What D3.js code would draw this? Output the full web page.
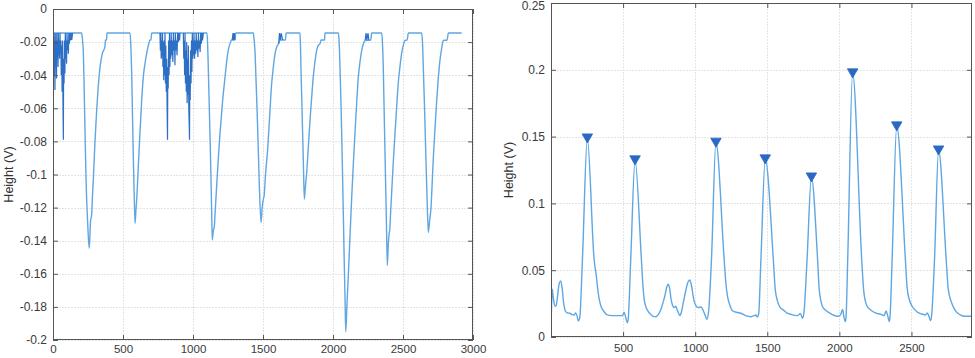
<!DOCTYPE html>
<html><head><meta charset="utf-8">
<script src="https://cdn.jsdelivr.net/npm/d3@7"></script>
<style>
html,body{margin:0;padding:0;background:#fff;}
svg{display:block;}
</style></head>
<body>
<svg id="chart" width="975" height="358"></svg>
<script>
// ---------- DATA ----------
// Left panel: raw (inverted) signal, light line
const leftSignal = [
[3,-0.0145],[145,-0.0145],[205,-0.0145],[211,-0.019],[217,-0.027],[223,-0.05],[229,-0.075],[236,-0.103],[248,-0.13],[259,-0.1446],[268,-0.128],[276,-0.1245],[282,-0.113],[288,-0.103],[300,-0.08],[312,-0.061],[324,-0.046],[336,-0.035],[352,-0.027],[371,-0.0228],[375,-0.0187],[383,-0.0187],[385,-0.0145],
[550,-0.0145],[556,-0.022],[562,-0.0385],[568,-0.065],[574,-0.0906],[580,-0.112],[586,-0.1295],[592,-0.122],[598,-0.115],[610,-0.094],[621,-0.075],[633,-0.056],[645,-0.041],[657,-0.033],[669,-0.0268],[681,-0.022],[693,-0.0187],[700,-0.0187],[705,-0.0145],
[1100,-0.0145],[1104,-0.02],[1109,-0.035],[1115,-0.055],[1121,-0.075],[1128,-0.1],[1134,-0.1255],[1138,-0.1396],[1145,-0.134],[1152,-0.1315],[1160,-0.12],[1169,-0.107],[1181,-0.09],[1193,-0.075],[1211,-0.056],[1229,-0.041],[1240,-0.032],[1252,-0.0248],[1264,-0.021],[1276,-0.0187],[1300,-0.0187],[1305,-0.0145],
[1431,-0.0145],[1437,-0.019],[1443,-0.026],[1451,-0.045],[1460,-0.067],[1467,-0.087],[1474,-0.107],[1486,-0.129],[1494,-0.12],[1502,-0.115],[1508,-0.113],[1518,-0.1],[1533,-0.085],[1548,-0.064],[1562,-0.045],[1574,-0.035],[1586,-0.027],[1598,-0.023],[1610,-0.021],[1625,-0.0187],[1660,-0.0187],[1665,-0.0145],
[1764,-0.0145],[1767,-0.02],[1771,-0.035],[1777,-0.055],[1783,-0.075],[1789,-0.095],[1795,-0.1148],[1803,-0.107],[1812,-0.099],[1824,-0.083],[1836,-0.067],[1848,-0.053],[1859,-0.041],[1871,-0.032],[1883,-0.025],[1895,-0.022],[1907,-0.021],[1915,-0.0187],[1940,-0.0187],[1943,-0.0145],
[2038,-0.0145],[2044,-0.02],[2050,-0.035],[2058,-0.06],[2067,-0.095],[2074,-0.125],[2081,-0.156],[2086,-0.175],[2091,-0.195],[2100,-0.178],[2110,-0.16],[2121,-0.138],[2133,-0.115],[2145,-0.094],[2157,-0.075],[2169,-0.057],[2181,-0.041],[2193,-0.032],[2205,-0.025],[2217,-0.021],[2229,-0.019],[2270,-0.0187],[2276,-0.0145],
[2348,-0.0145],[2353,-0.02],[2359,-0.035],[2365,-0.06],[2371,-0.085],[2377,-0.11],[2383,-0.135],[2388,-0.155],[2395,-0.142],[2402,-0.135],[2405,-0.134],[2412,-0.122],[2419,-0.111],[2431,-0.092],[2443,-0.075],[2455,-0.059],[2466,-0.045],[2478,-0.035],[2490,-0.027],[2502,-0.022],[2514,-0.019],[2530,-0.0187],[2538,-0.0145],
[2633,-0.0145],[2639,-0.02],[2645,-0.035],[2654,-0.06],[2662,-0.085],[2668,-0.103],[2674,-0.12],[2681,-0.135],[2690,-0.128],[2700,-0.12],[2708,-0.106],[2716,-0.091],[2728,-0.073],[2741,-0.055],[2752,-0.042],[2764,-0.031],[2776,-0.024],[2788,-0.019],[2815,-0.0187],[2824,-0.0145],[2919,-0.0145]
];
// Left panel: noisy bursts (dark)
const noiseA = [[2,-0.0145],[4,-0.03],[6,-0.0145],[9,-0.04],[11,-0.02],[14,-0.049],[16,-0.0145],[19,-0.035],[22,-0.019],[25,-0.042],[27,-0.0145],[30,-0.03],[33,-0.019],[36,-0.035],[38,-0.0145],[41,-0.028],[44,-0.019],[47,-0.03],[50,-0.0145],[53,-0.027],[56,-0.019],[59,-0.04],[62,-0.022],[65,-0.05],[68,-0.019],[71,-0.055],[74,-0.079],[76,-0.03],[79,-0.045],[82,-0.019],[85,-0.039],[88,-0.0145],[91,-0.03],[94,-0.019],[97,-0.033],[100,-0.0145],[104,-0.025],[107,-0.019],[110,-0.027],[113,-0.0145],[117,-0.021],[121,-0.0145],[125,-0.019],[130,-0.0145],[134,-0.0187],[140,-0.0145]];
const noiseB = [[764,-0.0145],[767,-0.025],[770,-0.0145],[773,-0.03],[776,-0.019],[779,-0.029],[782,-0.0145],[785,-0.035],[788,-0.02],[791,-0.043],[794,-0.019],[797,-0.04],[800,-0.0145],[803,-0.045],[806,-0.022],[809,-0.05],[812,-0.03],[815,-0.06],[818,-0.079],[820,-0.035],[823,-0.048],[826,-0.019],[829,-0.04],[832,-0.0145],[835,-0.035],[838,-0.019],[841,-0.03],[844,-0.0145],[848,-0.028],[852,-0.019],[856,-0.032],[860,-0.0145],[864,-0.025],[868,-0.019],[871,-0.034],[874,-0.0145],[878,-0.025],[882,-0.019],[886,-0.028],[890,-0.0145],[895,-0.02],[900,-0.0145],[904,-0.019],[907,-0.0145]];
const noiseC = [[931,-0.0145],[934,-0.03],[937,-0.019],[940,-0.04],[943,-0.0145],[946,-0.045],[949,-0.025],[952,-0.05],[955,-0.02],[958,-0.057],[961,-0.03],[964,-0.052],[967,-0.022],[970,-0.06],[973,-0.07],[975,-0.079],[977,-0.04],[980,-0.055],[983,-0.025],[986,-0.045],[989,-0.019],[992,-0.038],[995,-0.0145],[998,-0.03],[1001,-0.019],[1004,-0.028],[1007,-0.0145],[1011,-0.03],[1015,-0.019],[1019,-0.027],[1023,-0.0145],[1027,-0.025],[1031,-0.019],[1035,-0.029],[1039,-0.0145],[1043,-0.024],[1047,-0.019],[1051,-0.026],[1055,-0.0145],[1060,-0.021],[1064,-0.0145],[1068,-0.019],[1074,-0.0145]];
const noiseSteps = [
[[1280,-0.0187],[1286,-0.0145],[1290,-0.0187],[1295,-0.0145],[1300,-0.0187]],
[[1612,-0.021],[1618,-0.0145],[1624,-0.0187],[1630,-0.0145],[1640,-0.0187]],
[[2230,-0.0187],[2236,-0.0145],[2242,-0.0187],[2250,-0.0145],[2256,-0.0187]]
];

// Right panel: smoothed signal and detected peaks
const rightSignal = [
[1,0.0115],[5,0.028],[9,0.0357],[15,0.03],[22,0.025],[30,0.023],[37,0.024],[45,0.03],[55,0.039],[67,0.042],[77,0.037],[87,0.026],[95,0.021],[102,0.019],[115,0.018],[130,0.0178],[145,0.0168],[160,0.0165],[171,0.018],[180,0.016],[190,0.012],[200,0.015],[218,0.058],[252,0.149],[299,0.058],[315,0.045],[325,0.035],[335,0.028],[350,0.022],[368,0.019],[390,0.0165],[420,0.016],[450,0.016],[480,0.016],[495,0.016],[507,0.0185],[515,0.016],[530,0.0107],[536,0.014],[553,0.058],[583,0.1326],[627,0.058],[640,0.035],[648,0.027],[658,0.0227],[675,0.019],[692,0.017],[710,0.0155],[727,0.0152],[745,0.017],[760,0.02],[775,0.025],[790,0.031],[802,0.037],[812,0.0395],[822,0.037],[832,0.029],[842,0.024],[855,0.022],[865,0.023],[873,0.021],[884,0.018],[894,0.016],[905,0.019],[920,0.027],[935,0.035],[950,0.041],[963,0.0427],[975,0.038],[990,0.028],[1005,0.0235],[1020,0.022],[1040,0.0225],[1055,0.02],[1070,0.016],[1081,0.0133],[1093,0.019],[1113,0.058],[1144,0.1458],[1201,0.058],[1213,0.04],[1225,0.03],[1240,0.024],[1259,0.0197],[1285,0.0185],[1317,0.0178],[1350,0.016],[1387,0.0152],[1410,0.016],[1421,0.0165],[1430,0.015],[1440,0.017],[1456,0.058],[1486,0.1333],[1542,0.058],[1555,0.036],[1572,0.0265],[1590,0.022],[1606,0.0207],[1635,0.018],[1664,0.017],[1690,0.0162],[1710,0.016],[1722,0.017],[1729,0.0177],[1737,0.016],[1745,0.014],[1755,0.019],[1776,0.058],[1806,0.1198],[1849,0.058],[1860,0.036],[1872,0.027],[1884,0.0227],[1905,0.02],[1931,0.018],[1955,0.0165],[1977,0.0157],[1995,0.0155],[2010,0.017],[2023,0.0207],[2030,0.016],[2042,0.0115],[2047,0.016],[2058,0.058],[2092,0.1977],[2155,0.058],[2167,0.037],[2185,0.025],[2200,0.022],[2220,0.020],[2250,0.018],[2289,0.017],[2310,0.016],[2324,0.0195],[2335,0.016],[2347,0.0115],[2352,0.016],[2366,0.058],[2398,0.158],[2458,0.058],[2470,0.037],[2486,0.0277],[2505,0.023],[2521,0.0207],[2550,0.018],[2579,0.017],[2598,0.0165],[2609,0.018],[2620,0.016],[2632,0.0122],[2640,0.016],[2660,0.058],[2688,0.14],[2741,0.058],[2755,0.036],[2776,0.0265],[2793,0.022],[2810,0.019],[2835,0.0168],[2856,0.0157],[2880,0.0155],[2919,0.0155]
];
const peakX = [252, 583, 1144, 1486, 1806, 2092, 2398, 2688];
const peakY = [0.149, 0.1326, 0.1458, 0.1333, 0.1198, 0.1977, 0.158, 0.14];

// Ticks
const leftXTicks = [0, 500, 1000, 1500, 2000, 2500, 3000];
const leftYTicks = [0, -0.02, -0.04, -0.06, -0.08, -0.1, -0.12, -0.14, -0.16, -0.18, -0.2];
const leftYLabels = ["0", "-0.02", "-0.04", "-0.06", "-0.08", "-0.1", "-0.12", "-0.14", "-0.16", "-0.18", "-0.2"];
const rightXTicks = [500, 1000, 1500, 2000, 2500];
const rightYTicks = [0, 0.05, 0.1, 0.15, 0.2, 0.25];
const rightYLabels = ["0", "0.05", "0.1", "0.15", "0.2", "0.25"];
const yTitle = "Height (V)";

// ---------- DRAW ----------
const svg = d3.select("#chart");
const LINE = "#5ea7e3", DARK = "#2e6fc6", MARK = "#2a68c4";
const FONT = "'Liberation Sans', Arial, Helvetica, sans-serif";

function panel(cfg) {
  const g = svg.append("g");
  const x = d3.scaleLinear().domain(cfg.xDomain).range([cfg.left, cfg.right]);
  const y = d3.scaleLinear().domain(cfg.yDomain).range([cfg.bottom, cfg.top]);
  g.append("rect").attr("x", cfg.left).attr("y", cfg.top)
    .attr("width", cfg.right - cfg.left).attr("height", cfg.bottom - cfg.top).attr("fill", "#fff");
  const grid = g.append("g").attr("stroke", "#e4e4e4").attr("stroke-width", 1).attr("stroke-dasharray", "2,1");
  grid.selectAll(".gx").data(cfg.xTicks).enter().append("line")
    .attr("x1", d => Math.round(x(d)) + 0.5).attr("x2", d => Math.round(x(d)) + 0.5)
    .attr("y1", cfg.top).attr("y2", cfg.bottom);
  grid.selectAll(".gy").data(cfg.yTicks).enter().append("line")
    .attr("y1", d => Math.round(y(d)) + 0.5).attr("y2", d => Math.round(y(d)) + 0.5)
    .attr("x1", cfg.left).attr("x2", cfg.right);
  return {g, x, y};
}

function axes(p, cfg) {
  const {g, x, y} = p;
  const fmtY = d => cfg.yLabels[cfg.yTicks.indexOf(d)];
  const bx = g.append("g").attr("transform", `translate(0,${cfg.bottom})`)
    .call(d3.axisBottom(x).tickValues(cfg.xTicks).tickSizeInner(-5).tickSizeOuter(0).tickPadding(cfg.xPad).tickFormat(d3.format("d")));
  const tx = g.append("g").attr("transform", `translate(0,${cfg.top})`)
    .call(d3.axisBottom(x).tickValues(cfg.xTicks).tickSizeInner(5).tickSizeOuter(0).tickFormat(""));
  const ly = g.append("g").attr("transform", `translate(${cfg.left},0)`)
    .call(d3.axisLeft(y).tickValues(cfg.yTicks).tickSizeInner(-5).tickSizeOuter(0).tickPadding(cfg.yPad).tickFormat(fmtY));
  const ry = g.append("g").attr("transform", `translate(${cfg.right},0)`)
    .call(d3.axisLeft(y).tickValues(cfg.yTicks).tickSizeInner(5).tickSizeOuter(0).tickFormat(""));
  [bx, tx, ly, ry].forEach(a => {
    a.select(".domain").remove();
    a.selectAll(".tick line").attr("stroke", "#555");
    a.selectAll("text").attr("fill", "#3a3a3a").style("font-family", FONT).style("font-size", "12px");
  });
  bx.selectAll("text").style("font-size", "11.5px");
  // keep the topmost y label inside the picture
  ly.selectAll(".tick text").filter(d => y(d) < 7).attr("dy", "0.5em");
  g.append("rect").attr("x", cfg.left + 0.5).attr("y", cfg.top + 0.5)
    .attr("width", cfg.right - cfg.left - 1).attr("height", cfg.bottom - cfg.top - 1)
    .attr("fill", "none").attr("stroke", "#555").attr("stroke-width", 1);
  g.append("text").attr("transform", `translate(${cfg.titleX},${(cfg.top + cfg.bottom) / 2}) rotate(-90)`)
    .attr("text-anchor", "middle").attr("fill", "#333")
    .style("font-family", FONT).style("font-size", "12.5px").text(yTitle);
}

// Left panel
const Lcfg = {left: 53, right: 473, top: 9, bottom: 340, xDomain: [0, 3000], yDomain: [-0.2, 0],
  xTicks: leftXTicks, yTicks: leftYTicks, yLabels: leftYLabels, xPad: 5, yPad: 6, titleX: 13};
const L = panel(Lcfg);
const lineL = d3.line().x(d => L.x(d[0])).y(d => L.y(d[1]));
const lineLs = d3.line().x(d => L.x(d[0])).y(d => L.y(d[1])).curve(d3.curveMonotoneX);
svg.append("clipPath").attr("id", "cl").append("rect")
  .attr("x", Lcfg.left).attr("y", Lcfg.top).attr("width", Lcfg.right - Lcfg.left).attr("height", Lcfg.bottom - Lcfg.top);
const dataL = L.g.append("g").attr("clip-path", "url(#cl)");
dataL.append("path").datum(leftSignal).attr("d", lineLs).attr("fill", "none").attr("stroke", LINE).attr("stroke-width", 1.4).attr("stroke-linejoin", "round");
[noiseA, noiseB, noiseC].concat(noiseSteps).forEach(n => {
  dataL.append("path").datum(n).attr("d", lineL).attr("fill", "none").attr("stroke", DARK).attr("stroke-width", 1.2);
});
axes(L, Lcfg);

// Right panel
const Rcfg = {left: 551, right: 972, top: 3, bottom: 337, xDomain: [0, 2920], yDomain: [0, 0.25],
  xTicks: rightXTicks, yTicks: rightYTicks, yLabels: rightYLabels, xPad: 7, yPad: 6, titleX: 513};
const R = panel(Rcfg);
const lineR = d3.line().x(d => R.x(d[0])).y(d => R.y(d[1])).curve(d3.curveMonotoneX);
svg.append("clipPath").attr("id", "cr").append("rect")
  .attr("x", Rcfg.left).attr("y", Rcfg.top).attr("width", Rcfg.right - Rcfg.left).attr("height", Rcfg.bottom - Rcfg.top);
const dataR = R.g.append("g").attr("clip-path", "url(#cr)");
dataR.append("path").datum(rightSignal).attr("d", lineR).attr("fill", "none").attr("stroke", LINE).attr("stroke-width", 1.4).attr("stroke-linejoin", "round");
const tri = d3.symbol().type(d3.symbolTriangle).size(48);
dataR.selectAll(".pk").data(peakX).enter().append("path")
  .attr("d", tri)
  .attr("transform", (d, i) => `translate(${R.x(d)},${R.y(peakY[i]) - 1}) rotate(180)`)
  .attr("fill", MARK).attr("stroke", MARK).attr("stroke-width", 0.8);
axes(R, Rcfg);
</script>
</body></html>
